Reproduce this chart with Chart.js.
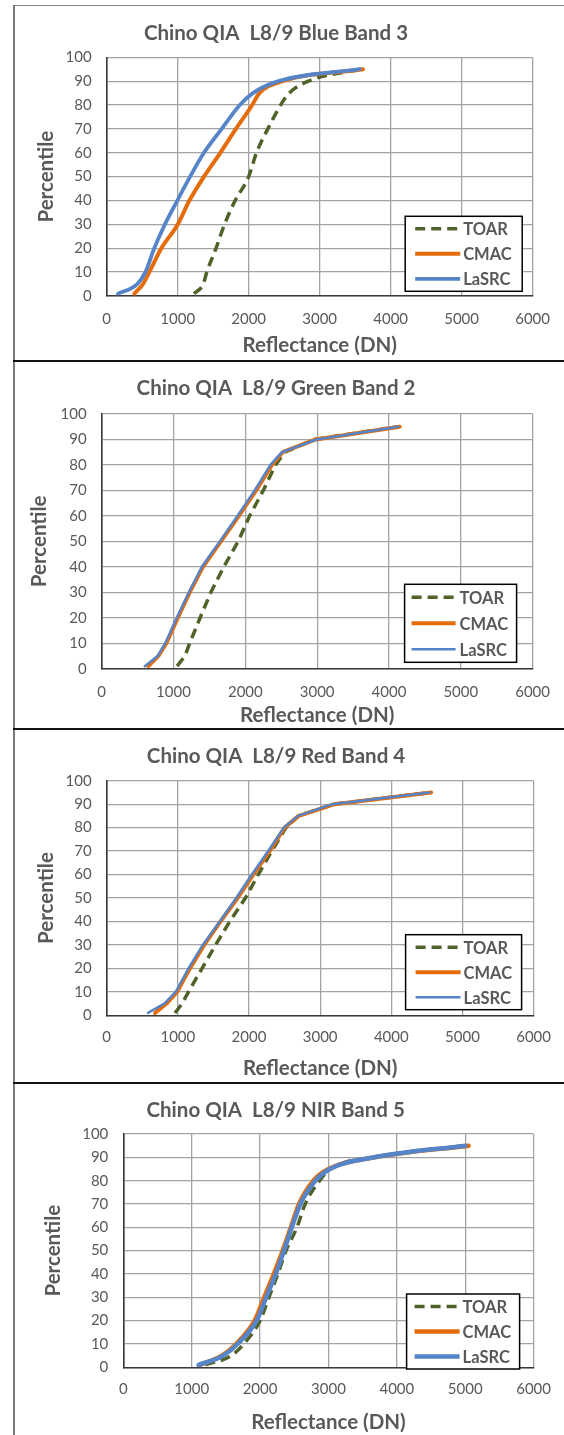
<!DOCTYPE html>
<html><head><meta charset="utf-8">
<script src="https://cdn.jsdelivr.net/npm/chart.js@4.4.1/dist/chart.umd.min.js"></script>
<style>
html,body{margin:0;padding:0;background:#fff;}
body{width:564px;height:1435px;position:relative;overflow:hidden;font-family:Lato;}
canvas{position:absolute;left:14px;}
.ln{position:absolute;}
</style></head><body>
<div class="ln" style="left:13px;top:5px;width:551px;height:1px;background:#8a8a8a"></div>
<div class="ln" style="left:13px;top:5px;width:2px;height:1430px;background:#7a7a7a"></div>
<div class="ln" style="left:13px;top:360px;width:551px;height:2px;background:#111"></div>
<div class="ln" style="left:13px;top:728px;width:551px;height:2px;background:#111"></div>
<div class="ln" style="left:13px;top:1082px;width:551px;height:2px;background:#111"></div>
<canvas id="c1" width="550" height="355" style="top:6px"></canvas>
<canvas id="c2" width="550" height="366" style="top:362px"></canvas>
<canvas id="c3" width="550" height="352" style="top:730px"></canvas>
<canvas id="c4" width="550" height="351" style="top:1084px"></canvas>
<script>
// ---- data ----
const percentiles = [1, 5, 10, 20, 30, 40, 50, 60, 70, 80, 85, 90, 95];
const xTickValues = [0, 1000, 2000, 3000, 4000, 5000, 6000];
const yTickValues = [0, 10, 20, 30, 40, 50, 60, 70, 80, 90, 100];
const seriesNames = ['TOAR', 'CMAC', 'LaSRC'];
const panelTitles = ['Chino QIA  L8/9 Blue Band 3', 'Chino QIA  L8/9 Green Band 2', 'Chino QIA  L8/9 Red Band 4', 'Chino QIA  L8/9 NIR Band 5'];

const blueToar  = [1230, 1360, 1410, 1540, 1660, 1810, 2000, 2110, 2270, 2450, 2570, 2840, 3560];
const blueCmac  = [390, 510, 600, 770, 1000, 1165, 1370, 1600, 1820, 2050, 2150, 2480, 3610];
const blueLasrc = [160, 430, 545, 670, 820, 995, 1175, 1370, 1620, 1875, 2060, 2420, 3565];

const greenToar  = [1050, 1160, 1225, 1370, 1520, 1700, 1900, 2060, 2250, 2420, 2550, 2960, 4120];
const greenCmac  = [650, 790, 900, 1060, 1225, 1410, 1660, 1910, 2150, 2370, 2520, 2980, 4150];
const greenLasrc = [600, 780, 885, 1045, 1215, 1395, 1645, 1890, 2130, 2350, 2510, 2990, 4130];

const redToar  = [960, 1060, 1150, 1340, 1530, 1730, 1950, 2130, 2320, 2520, 2690, 3200, 4550];
const redCmac  = [680, 840, 990, 1170, 1370, 1600, 1840, 2060, 2290, 2500, 2700, 3200, 4560];
const redLasrc = [580, 810, 970, 1150, 1350, 1590, 1820, 2040, 2270, 2490, 2690, 3170, 4540];

const nirToar  = [1200, 1580, 1760, 2000, 2130, 2260, 2380, 2540, 2660, 2870, 3030, 3650, 5000];
const nirCmac  = [1120, 1440, 1650, 1920, 2060, 2200, 2330, 2450, 2570, 2780, 3000, 3680, 5050];
const nirLasrc = [1100, 1460, 1670, 1950, 2090, 2230, 2350, 2465, 2590, 2810, 3020, 3670, 5000];

// ---- styling ----
const TXT = '#595959';
const FONT = 'Lato';
const COLORS = ['#4f6228', '#e46c0a', '#5585c8'];

const legendBox = {
  id: 'legendBox',
  afterDraw(chart, args, o) {
    const {ctx, chartArea: a} = chart;
    const x2 = a.right - o.r, y2 = a.bottom - o.b;
    const x1 = x2 - o.w, y1 = y2 - o.h;
    ctx.save();
    ctx.fillStyle = '#fff';
    ctx.fillRect(x1, y1, o.w, o.h);
    ctx.strokeStyle = '#000';
    ctx.lineWidth = 1.5;
    ctx.strokeRect(x1, y1, o.w, o.h);
    chart.data.datasets.forEach((ds, i) => {
      const yy = y1 + o.h / 6 + i * o.h / 3;
      ctx.beginPath();
      ctx.setLineDash(ds.borderDash || []);
      ctx.strokeStyle = ds.borderColor;
      ctx.lineWidth = ds.borderWidth;
      ctx.lineCap = 'butt';
      ctx.moveTo(x1 + o.lx, yy);
      ctx.lineTo(x1 + o.lx + o.ll, yy);
      ctx.stroke();
      ctx.setLineDash([]);
      ctx.fillStyle = TXT;
      ctx.font = 'bold 16.5px ' + FONT;
      ctx.textBaseline = 'middle';
      ctx.textAlign = 'left';
      ctx.fillText(ds.label, x1 + o.tx, yy + 1);
    });
    ctx.restore();
  }
};

function pts(xs) { return xs.map((x, i) => ({x: x, y: percentiles[i]})); }

function makeChart(id, title, xs, g) {
  const datasets = seriesNames.map((name, i) => ({
    label: name,
    data: pts(xs[i]),
    borderColor: COLORS[i],
    backgroundColor: COLORS[i],
    borderWidth: g.lw[i],
    borderDash: i === 0 ? [10, 6] : [],
    borderCapStyle: i === 0 ? 'butt' : 'round',
    cubicInterpolationMode: g.smooth ? 'monotone' : 'default',
    order: 2 - i,
    pointRadius: 0,
    fill: false
  }));
  const H = document.getElementById(id).height;
  const TS = 20.5, TLH = TS * 1.2;
  return new Chart(document.getElementById(id), {
    type: 'line',
    data: {datasets},
    options: {
      responsive: false,
      animation: false,
      devicePixelRatio: 1,
      events: [],
      layout: {padding: {left: 0, right: g.padR, top: 0, bottom: 0}},
      elements: {line: {tension: 0, borderJoinStyle: 'round'}},
      plugins: {
        legend: {display: false},
        tooltip: {enabled: false},
        title: {
          display: true, text: title, color: TXT,
          font: {family: FONT, size: TS, weight: 'bold', lineHeight: 1.2},
          padding: {top: g.titleY - TLH / 2, bottom: g.plotTop - (g.titleY - TLH / 2) - TLH}
        },
        legendBox: g.legend
      },
      scales: {
        x: {
          type: 'linear', min: 0, max: 6000,
          afterBuildTicks: s => { s.ticks = xTickValues.map(v => ({value: v})); },
          afterFit: s => { s.height = H - g.plotBottom; },
          grid: {color: '#a3a3a3', lineWidth: 1.3, drawTicks: false},
          border: {color: '#3a3a3a', width: 1.6},
          ticks: {color: TXT, font: {family: FONT, size: 15}, padding: g.xTickPad, maxRotation: 0,
                  callback: v => String(v)},
          title: {display: true, text: 'Reflectance (DN)', color: TXT,
                  font: {family: FONT, size: TS, weight: 'bold', lineHeight: 1.2}, padding: {top: 0, bottom: g.xTitleB - TLH / 2}}
        },
        y: {
          type: 'linear', min: 0, max: 100,
          afterBuildTicks: s => { s.ticks = yTickValues.map(v => ({value: v})); },
          afterFit: s => { s.width = g.plotLeft; },
          grid: {color: '#a3a3a3', lineWidth: 1.3, drawTicks: false},
          border: {color: '#3a3a3a', width: 1.6},
          ticks: {color: TXT, font: {family: FONT, size: 15}, padding: 15, callback: v => String(v)},
          title: {display: true, text: 'Percentile', color: TXT,
                  font: {family: FONT, size: TS, weight: 'bold', lineHeight: 1.2}, padding: {top: g.yTitleX - TLH / 2, bottom: 0}}
        }
      }
    },
    plugins: [legendBox]
  });
}

makeChart('c1', panelTitles[0], [blueToar, blueCmac, blueLasrc], {
  lw: [3.5, 4, 3.8], padR: 26, plotLeft: 92.7, plotTop: 51.3, plotBottom: 290, titleY: 27.3,
  xTickPad: 14, xTitleB: 15.4, yTitleX: 32.3, smooth: true,
  legend: {r: 10.4, b: 4.7, w: 117, h: 75, lx: 10, ll: 45, tx: 58}
});
makeChart('c2', panelTitles[1], [greenToar, greenCmac, greenLasrc], {
  lw: [3.5, 4, 2.5], padR: 26, plotLeft: 87.7, plotTop: 52, plotBottom: 306.7, titleY: 26.3,
  xTickPad: 14, xTitleB: 13, yTitleX: 25.5,
  legend: {r: 16, b: 6.4, w: 112, h: 78, lx: 7, ll: 44, tx: 55}
});
makeChart('c3', panelTitles[2], [redToar, redCmac, redLasrc], {
  lw: [3.5, 4, 2.5], padR: 26, plotLeft: 92.7, plotTop: 50.7, plotBottom: 285.3, titleY: 26.4,
  xTickPad: 13, xTitleB: 13.6, yTitleX: 32.3,
  legend: {r: 12, b: 5.6, w: 116, h: 75, lx: 10, ll: 45, tx: 58}
});
makeChart('c4', panelTitles[3], [nirToar, nirCmac, nirLasrc], {
  lw: [3.5, 4.5, 4.5], padR: 26.7, plotLeft: 109.3, plotTop: 50, plotBottom: 283.3, titleY: 26.7,
  xTickPad: 13, xTitleB: 12.7, yTitleX: 39.2, smooth: true,
  legend: {r: 14, b: -1.7, w: 113, h: 75, lx: 8, ll: 45, tx: 56}
});
</script>
</body></html>
